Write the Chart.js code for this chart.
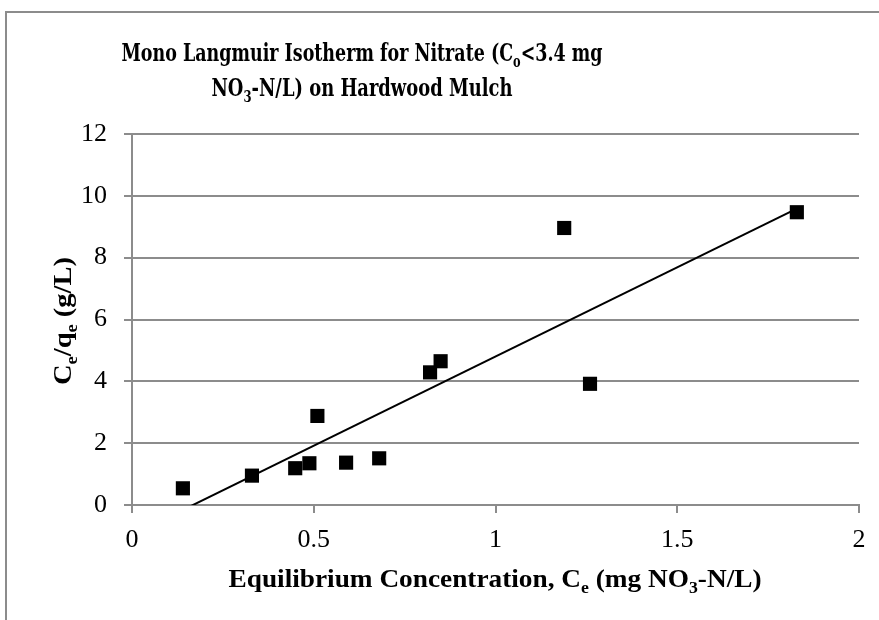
<!DOCTYPE html>
<html>
<head>
<meta charset="utf-8">
<script src="https://cdn.jsdelivr.net/npm/chart.js@4.4.0/dist/chart.umd.min.js"></script>
<style>
    html, body { margin: 0; padding: 0; background: #fff; overflow: hidden; }
    #wrap { position: relative; width: 879px; height: 620px; }
    #bingkai { position: absolute; left: 5px; top: 11px; width: 900px; height: 700px; border: 2px solid #8c8c8c; box-sizing: border-box; }
    canvas { position: absolute; left: 0; top: 0; }
</style>
</head>
<body>
<div id="wrap">
    <div id="bingkai"></div>
    <canvas id="grafik-isoterm" width="879" height="620"></canvas>
</div>
<script>
// data
const konsentrasiCe = [0.14, 0.33, 0.449, 0.488, 0.51, 0.589, 0.68, 0.82, 0.849, 1.189, 1.26, 1.829];
const rasioCeQe = [0.54, 0.95, 1.19, 1.35, 2.88, 1.37, 1.51, 4.29, 4.65, 8.96, 3.92, 9.47];
const tickX = [0, 0.5, 1, 1.5, 2];
const tickY = [0, 2, 4, 6, 8, 10, 12];

const judulBaris1 = [{ t: "Mono Langmuir Isotherm for Nitrate (C" }, { t: "o", sub: true }, { t: "<3.4 mg" }];
const judulBaris2 = [{ t: "NO" }, { t: "3", sub: true }, { t: "-N/L) on Hardwood Mulch" }];
const judulX = [{ t: "Equilibrium Concentration, C" }, { t: "e", sub: true }, { t: " (mg NO" }, { t: "3", sub: true }, { t: "-N/L)" }];
const judulY = [{ t: "C" }, { t: "e", sub: true }, { t: "/q" }, { t: "e", sub: true }, { t: " (g/L)" }];

const FONT = "'Liberation Serif', 'Times New Roman', serif";
const FONT_JUDUL = "'DejaVu Serif Condensed', 'DejaVu Serif', serif";
const ABU = "#8c8c8c";

// garis tren (kuadrat terkecil)
const n = konsentrasiCe.length;
const rataX = konsentrasiCe.reduce((a, b) => a + b, 0) / n;
const rataY = rasioCeQe.reduce((a, b) => a + b, 0) / n;
let sxy = 0, sxx = 0;
konsentrasiCe.forEach((x, i) => {
    sxy += (x - rataX) * (rasioCeQe[i] - rataY);
    sxx += (x - rataX) * (x - rataX);
});
const kemiringan = sxy / sxx;
const titikPotong = rataY - kemiringan * rataX;
const xMin = Math.min(...konsentrasiCe);
const xMaks = Math.max(...konsentrasiCe);
const dataTren = [
    { x: xMin, y: titikPotong + kemiringan * xMin },
    { x: xMaks, y: titikPotong + kemiringan * xMaks },
];

function tulisKaya(ctx, bagian, cx, dasar, ukuran, lebar, putar, keluarga) {
    const fam = keluarga || FONT;
    ctx.save();
    ctx.translate(cx, dasar);
    if (putar) ctx.rotate(putar);
    let total = 0;
    const lebarBagian = bagian.map((p) => {
        ctx.font = `bold ${p.sub ? ukuran * 0.65 : ukuran}px ${fam}`;
        const w = ctx.measureText(p.t).width;
        total += w;
        return w;
    });
    ctx.scale(lebar / total, 1);
    ctx.fillStyle = "#000";
    ctx.textAlign = "left";
    ctx.textBaseline = "alphabetic";
    let x = -total / 2;
    bagian.forEach((p, i) => {
        ctx.font = `bold ${p.sub ? ukuran * 0.65 : ukuran}px ${fam}`;
        ctx.fillText(p.t, x, p.sub ? ukuran * 0.22 : 0);
        x += lebarBagian[i];
    });
    ctx.restore();
}

const pluginTeks = {
    id: "teksKaya",
    afterDraw(chart) {
        const ctx = chart.ctx;
        tulisKaya(ctx, judulBaris1, 362, 61, 25, 481, 0, FONT_JUDUL);
        tulisKaya(ctx, judulBaris2, 362, 96, 25, 301, 0, FONT_JUDUL);
        tulisKaya(ctx, judulX, 495, 587, 26, 533, 0);
        tulisKaya(ctx, judulY, 71, 321, 26, 128, -Math.PI / 2);
    },
};

new Chart(document.getElementById("grafik-isoterm"), {
    type: "scatter",
    data: {
        datasets: [
            {
                label: "Data",
                data: konsentrasiCe.map((x, i) => ({ x: x, y: rasioCeQe[i] })),
                pointStyle: "rect",
                pointRadius: 10,
                pointHoverRadius: 10,
                backgroundColor: "#000",
                borderColor: "#000",
                borderWidth: 0,
                order: 0,
            },
            {
                label: "Tren",
                data: dataTren,
                showLine: true,
                pointRadius: 0,
                borderColor: "#000",
                borderWidth: 2,
                order: 1,
            },
        ],
    },
    options: {
        responsive: false,
        animation: false,
        devicePixelRatio: 1,
        layout: { padding: { top: 134, right: 20, left: 0, bottom: 0 } },
        plugins: {
            legend: { display: false },
            tooltip: { enabled: false },
            title: { display: false },
        },
        scales: {
            x: {
                type: "linear",
                min: 0,
                max: 2,
                afterBuildTicks: (s) => { s.ticks = tickX.map((v) => ({ value: v })); },
                afterFit: (s) => { s.height = 115; },
                ticks: {
                    font: { family: FONT, size: 26 },
                    color: "#000",
                    padding: 12,
                    maxRotation: 0,
                    callback: (v) => String(v),
                },
                grid: { drawOnChartArea: false, drawTicks: true, tickLength: 8, color: ABU, lineWidth: 2 },
                border: { display: true, color: ABU, width: 2 },
            },
            y: {
                type: "linear",
                min: 0,
                max: 12,
                afterBuildTicks: (s) => { s.ticks = tickY.map((v) => ({ value: v })); },
                afterFit: (s) => { s.width = 132; },
                ticks: {
                    font: { family: FONT, size: 26 },
                    color: "#000",
                    padding: 17,
                    callback: (v) => String(v),
                },
                grid: { drawTicks: true, tickLength: 8, color: ABU, lineWidth: 2 },
                border: { display: true, color: ABU, width: 2 },
            },
        },
    },
    plugins: [pluginTeks],
});
</script>
</body>
</html>
